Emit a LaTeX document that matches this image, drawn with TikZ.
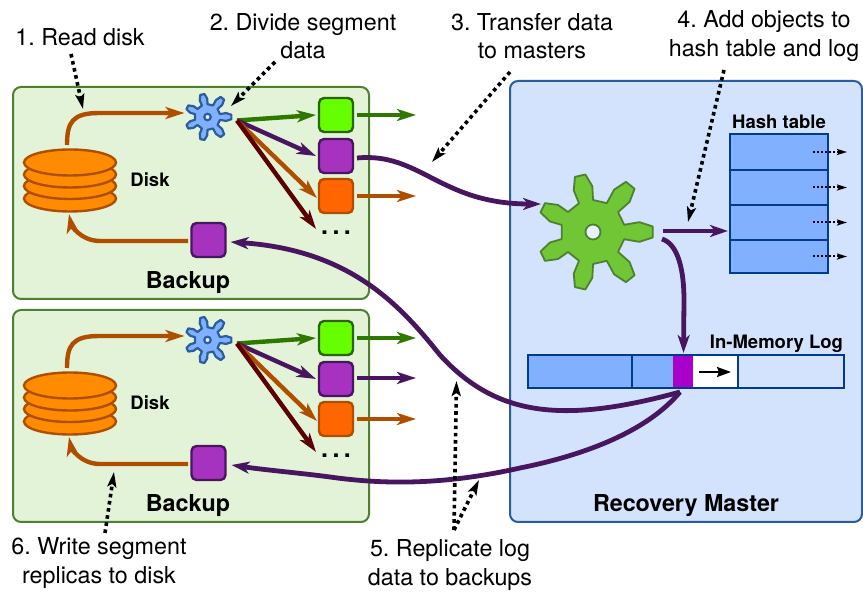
\documentclass[tikz,border=0pt]{standalone}
\usepackage{fontspec}
\setmainfont{TeX Gyre Heros}
\usetikzlibrary{arrows.meta,shapes.geometric}
\frenchspacing
\definecolor{boxG}{HTML}{E3F3D7}
\definecolor{boxGd}{HTML}{4F8030}
\definecolor{boxB}{HTML}{D3E3FD}
\definecolor{boxBd}{HTML}{2A5DA0}
\definecolor{cOr}{HTML}{B04E00}
\definecolor{cPu}{HTML}{47165F}
\definecolor{cGr}{HTML}{2F7800}
\definecolor{cDr}{HTML}{5A0000}
\definecolor{cellB}{HTML}{80B0FF}
\definecolor{cellD}{HTML}{003B8E}
\definecolor{fillG}{HTML}{66FF00}
\definecolor{fillP}{HTML}{A832C0}
\definecolor{fillO}{HTML}{FF6600}
\definecolor{fillD}{HTML}{FF8C00}
\definecolor{fillM}{HTML}{AA00CC}
\definecolor{gearG}{HTML}{70C634}
\definecolor{gearGd}{HTML}{4F8030}
\tikzset{
  every node/.style={outer sep=0pt},
  panelbox/.style={draw=boxGd,fill=boxG,line width=2pt,rounded corners=8pt},
  masterbox/.style={draw=boxBd,fill=boxB,line width=2pt,rounded corners=8pt},
  sq/.style={rectangle,rounded corners=5pt,minimum size=34pt,inner sep=0pt,line width=2.4pt},
  sqG/.style={sq,draw=cGr!85!black,fill=fillG},
  sqP/.style={sq,draw=cPu,fill=fillP},
  sqO/.style={sq,draw=cOr,fill=fillO},
  arr/.style={-{Stealth[length=19pt,width=12pt,inset=5pt]},line width=4.4pt},
  arrT/.style={-{Stealth[length=18pt,width=12pt,inset=5pt]},line width=4.8pt},
  dots/.style={-{Stealth[length=15pt,width=9pt,inset=3pt]},line width=3.6pt,dash pattern=on 3.6pt off 3.6pt,black},
  small/.style={-{Stealth[length=10pt,width=6pt,inset=2pt]},line width=2pt,dash pattern=on 2pt off 2pt,black},
  lab/.style={inner sep=0pt,align=center,font=\fontsize{23.3}{28.5}\selectfont},
  blab/.style={inner sep=0pt,font=\bfseries\fontsize{23.3}{28}\selectfont},
  slab/.style={inner sep=0pt,font=\bfseries\fontsize{18.5}{22}\selectfont},
  cell/.style={rectangle,draw=cellD,fill=cellB,line width=2.4pt,inner sep=0pt,anchor=north west},
  platter/.style={ellipse,draw=cOr,fill=fillD,line width=2.4pt,minimum width=92pt,minimum height=26pt,inner sep=0pt},
}
% #1 name, #2 x, #3 y, #4 scale, #5 fill, #6 draw, #7 line width, #8 hole size
\newcommand{\gearshape}[8]{%
  \begin{scope}[shift={(#2,#3)}]
  \path[draw=#6,fill=#5,line width=#7,line join=round]
    (-13:32*#4)
    \foreach \a/\r in {0/60,51.43/60,102.86/58,154.29/56,205.71/56,257.14/58,308.57/60}{
      -- (\a-13:32*#4) -- (\a-12:\r*0.79*#4) -- (\a-5.3:\r*#4) -- (\a+5.3:\r*#4) -- (\a+12:\r*0.79*#4) -- (\a+13:32*#4)
    } -- cycle;
  \end{scope}
  \node[circle,draw=#6,fill=boxB!50!white,line width=#7,minimum size=#8,inner sep=0pt] (#1) at (#2,#3) {};
}
% #1 suffix, #2 vertical offset
\newcommand{\backupunit}[2]{%
  \begin{scope}[yshift=-#2pt]
  \node[panelbox,minimum width=356pt,minimum height=212pt,anchor=north west,inner sep=0pt] (box#1) at (13,87) {};
  \node[platter] (d#1d) at (70,198.5) {};
  \node[platter] (d#1c) at (70,186) {};
  \node[platter] (d#1b) at (70,174.5) {};
  \node[platter] (d#1a) at (70,162.5) {};
  \node[slab,anchor=base] (disk#1) at (150,187) {Disk};
  \node[blab,anchor=base] (lbl#1) at (188,288.5) {Backup};
  \node[sqG] (g#1) at (336,115) {};
  \node[sqP] (p#1) at (336,156) {};
  \node[sqO] (o#1) at (336,196) {};
  \node[sqP] (r#1) at (208.5,240) {};
  \node[inner sep=0pt,anchor=base,font=\bfseries\fontsize{25}{28}\selectfont] (e#1) at (336,235) {.\kern4.4pt.\kern4.4pt.};
  \coordinate (dt#1) at (67,145);
  \coordinate (da#1) at (184.5,113);
  \coordinate (rs#1) at (188,241);
  \coordinate (db#1) at (69,214);
  \coordinate (fan#1) at (237,120.5);
  \coordinate (de#1) at (316,229);
  \end{scope}
}
\begin{document}
\begin{tikzpicture}[x=1pt,y=-1pt]
\useasboundingbox (0,0) rectangle (863,593);
\fill[white] (0,0) rectangle (863,593);

\node[masterbox,minimum width=352pt,minimum height=441pt,anchor=north west,inner sep=0pt] (master) at (510,81) {};
\node[blab,anchor=base] (masterlbl) at (686,511.5) {Recovery Master};

\backupunit{A}{0}
\backupunit{B}{223}

\gearshape{gearA}{207.5}{117}{0.4}{cellB}{boxBd}{2.2pt}{6.5pt}
\gearshape{gearB}{207.5}{340}{0.4}{cellB}{boxBd}{2.2pt}{6.5pt}
\gearshape{gearM}{593}{232}{1}{gearG}{gearGd}{1.8pt}{15pt}

% hash table
\foreach \i/\y/\h in {1/134/36,2/170/35,3/205/35,4/240/33}{
  \node[cell,minimum width=98pt,minimum height=\h pt] (h\i) at (730,\y) {};
}
\node[slab,anchor=base] (hashlbl) at (779,128.5) {Hash table};
\foreach \i in {1,2,3,4}{
  \coordinate (hs\i) at ([xshift=83pt]h\i.west);
  \coordinate (he\i) at ([xshift=117pt]h\i.west);
  \draw[small] (hs\i) -- (he\i);
}

% log
\node[cell,minimum width=210pt,minimum height=33pt,fill=white] (lf) at (528,355) {};
\fill[cellB] (529,356) rectangle (673,387);
\fill[fillM] (673,356) rectangle (693,387);
\node[cell,fill=none,minimum width=104pt,minimum height=33pt] (l1) at (528,355) {};
\node[cell,fill=none,minimum width=106pt,minimum height=33pt] (l2) at (738,355) {};
\node[slab,anchor=base] (loglbl) at (776.5,348.5) {In-Memory Log};
\coordinate (las) at (699,372);
\coordinate (lae) at (731,372);
\draw[-{Stealth[length=14pt,width=10pt,inset=2pt]},line width=2.2pt,black] (las) -- (lae);

% backup arrows
\foreach \s in {A,B}{
  \draw[arr,cOr] (dt\s) .. controls ([yshift=23pt]dt\s) and ([xshift=-112pt]da\s) .. ([xshift=-85pt]da\s) -- (da\s);
  \draw[arr,cOr] (rs\s) -- ([xshift=-88pt]rs\s) .. controls ([xshift=-108pt]rs\s) and ([xshift=2pt,yshift=-10pt]db\s) .. (db\s);
  \draw[arr,cGr] (fan\s) -- ([xshift=-3pt]g\s.west);
  \draw[arr,cPu] (fan\s) -- ([xshift=-3pt]p\s.west);
  \draw[arr,cOr] (fan\s) -- ([xshift=-2pt,yshift=-2pt]o\s.west);
  \draw[arr,cDr] (fan\s) -- (de\s);
  \draw[arr,cGr] ([xshift=4pt]g\s.east) -- ++(59,0);
  \draw[arr,cOr] ([xshift=4pt]o\s.east) -- ++(59,0);
}
\draw[arr,cPu] ([xshift=4pt,yshift=1pt]pB.east) -- ++(59,0);

% main flows
\coordinate (mIn) at (541,204);
\coordinate (mOut) at (663,231);
\coordinate (mOut2) at (662,239);
\coordinate (logOut) at (680,392);
\coordinate (logIn) at (683.5,353);
\coordinate (hIn) at (728,231);
\draw[arrT,cPu] ([xshift=4pt,yshift=-2pt]pA.east) .. controls (420,152) and (440,204) .. (mIn);
\draw[arrT,cPu] (mOut) -- (hIn);
\draw[arrT,cPu] (mOut2) .. controls (678,244) and (684,270) .. (684,300) -- (logIn);
\draw[arrT,cPu] (logOut) .. controls (560,425) and (495,415) .. (440,355) .. controls (400,305) and (350,250) .. ([xshift=5pt,yshift=-2pt]rA.east);
\draw[arrT,cPu] (logOut) .. controls (640,440) and (560,460) .. (520,468) .. controls (440,486) and (380,484) .. (330,477) .. controls (300,473) and (265,470) .. ([xshift=6pt,yshift=-2pt]rB.east);

% labels
\node[lab] (t1) at (80,37) {1. Read disk};
\node[lab] (t2) at (303,36) {2. Divide segment\\data};
\node[lab] (t3) at (532,36) {3. Transfer data\\to masters};
\node[lab] (t4) at (764,36) {4. Add objects to\\hash table and log};
\node[lab] (t5) at (450,565) {5. Replicate log\\data to backups};
\node[lab] (t6) at (99,563) {6. Write segment\\replicas to disk};

% callouts
\coordinate (c1a) at (71,54);   \coordinate (c1b) at (83,109);
\coordinate (c2a) at (275,62);  \coordinate (c2b) at (231,106);
\coordinate (c3a) at (510,72);  \coordinate (c3b) at (432,162);
\coordinate (c4a) at (724,70);  \coordinate (c4b) at (688,222);
\coordinate (c5a) at (454,530); \coordinate (c5b) at (456.5,381); \coordinate (c5c) at (479,480);
\coordinate (c6a) at (105,533); \coordinate (c6b) at (114,472);
\draw[dots] (c1a) -- (c1b);
\draw[dots] (c2a) -- (c2b);
\draw[dots] (c3a) -- (c3b);
\draw[dots] (c4a) -- (c4b);
\draw[dots] (c5a) -- (c5b);
\draw[dots] (c5a) -- (c5c);
\draw[dots] (c6a) -- (c6b);
\end{tikzpicture}
\end{document}
